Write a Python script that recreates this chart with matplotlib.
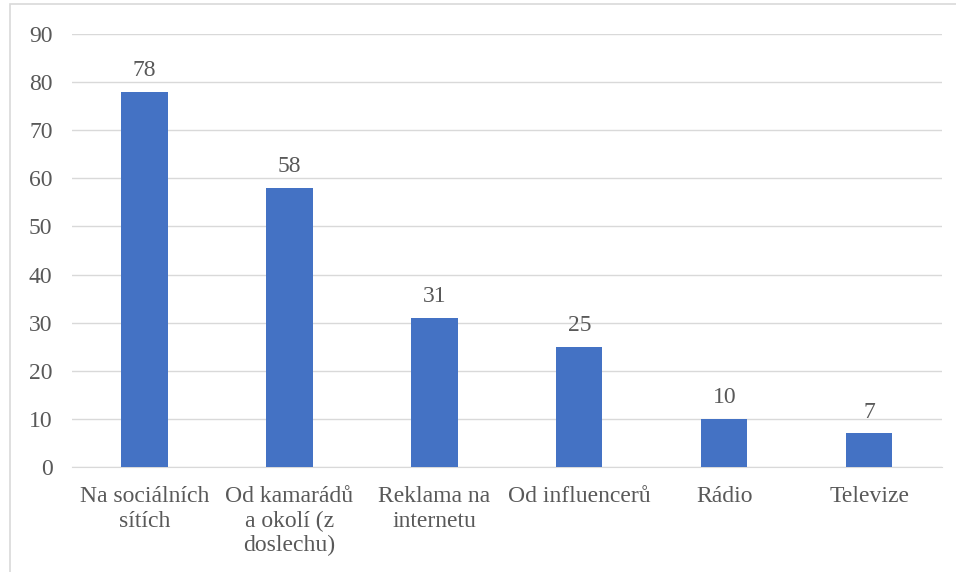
import matplotlib.pyplot as plt
import matplotlib.patches as patches

categories = ["Na sociálních\nsítích", "Od kamarádů\na okolí (z\ndoslechu)",
              "Reklama na\ninternetu", "Od influencerů", "Rádio", "Televize"]
values = [78, 58, 31, 25, 10, 7]

plt.rcParams['font.family'] = ['Liberation Serif', 'DejaVu Serif']
text_color = '#595959'
fs = 17

fig = plt.figure(figsize=(9.56, 5.72), dpi=100)
ax = fig.add_axes([0.0753, 0.1836, 0.9097, 0.757])

x = range(len(values))
bars = ax.bar(x, values, width=0.32, color='#4472C4', zorder=3)
for i, v in enumerate(values):
    ax.text(i, v + 2.2, str(v), ha='center', va='bottom', fontsize=fs, color=text_color)

ax.set_xlim(-0.5, len(values) - 0.5)
ax.set_ylim(0, 90)
ax.set_yticks(range(0, 91, 10))
ax.yaxis.grid(True, color='#D9D9D9', linewidth=1, zorder=0)
ax.set_xticks(list(x))
ax.set_xticklabels(categories, fontsize=fs, color=text_color, linespacing=1.2)
ax.tick_params(axis='y', labelsize=fs, labelcolor=text_color, length=0, pad=14)
ax.tick_params(axis='x', length=0, pad=14)
for s in ['top', 'right', 'left']:
    ax.spines[s].set_visible(False)
ax.spines['bottom'].set_color('#D9D9D9')

fig.patches.append(patches.Rectangle((10 / 956, -0.1), 1.2, 1.1 - 4 / 572,
                                     transform=fig.transFigure, fill=False,
                                     edgecolor='#D9D9D9', linewidth=1.2))

fig.savefig('out.png', dpi=100)
